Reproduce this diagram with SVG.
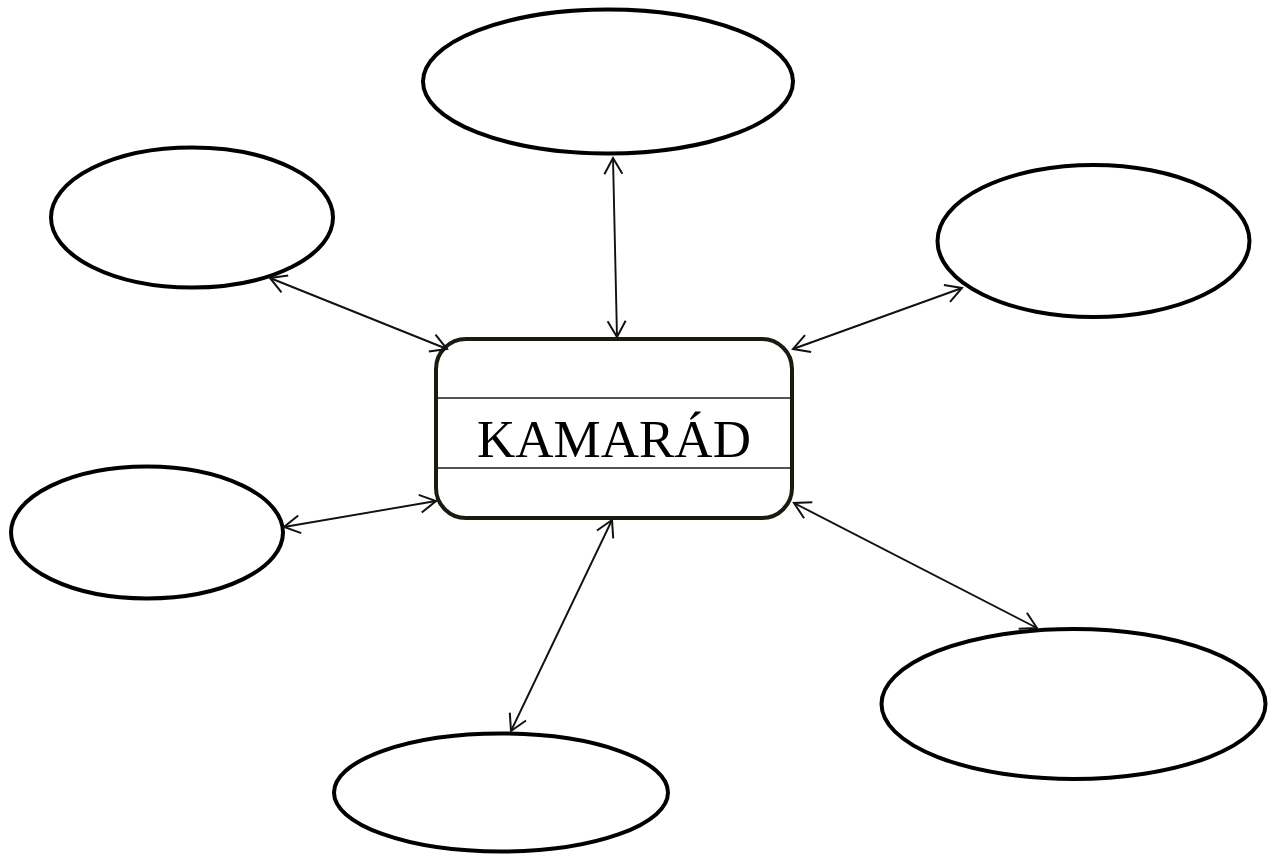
<svg xmlns="http://www.w3.org/2000/svg" width="1275" height="857" viewBox="0 0 1275 857">
<defs>
<marker id="arr" markerUnits="userSpaceOnUse" markerWidth="40" markerHeight="40" viewBox="-25 -20 40 40" refX="0" refY="0" orient="auto-start-reverse">
<path d="M-16,-9 L0,0 L-16,9" fill="none" stroke="#111" stroke-width="2"/>
</marker>
<style>
.node{fill:#fff;stroke:#000;stroke-width:4}
.link{fill:none;stroke:#111;stroke-width:1.9;marker-start:url(#arr);marker-end:url(#arr)}
.title{font-family:"Liberation Serif","Times New Roman",serif;font-size:53px;fill:#000}
</style>
</defs>
<rect width="1275" height="857" fill="#fff"/>
<g id="e-top"><ellipse class="node" cx="608" cy="81.5" rx="185" ry="72"/></g>
<g id="e-topleft"><ellipse class="node" cx="192" cy="217.5" rx="141" ry="70"/></g>
<g id="e-right"><ellipse class="node" cx="1093.5" cy="241" rx="156" ry="76"/></g>
<g id="e-left"><ellipse class="node" cx="147" cy="532.5" rx="136" ry="66"/></g>
<g id="e-bottom"><ellipse class="node" cx="501" cy="792.5" rx="167" ry="59"/></g>
<g id="e-bottomright"><ellipse class="node" cx="1073.5" cy="704" rx="192" ry="75"/></g>
<g id="center">
<rect x="436" y="339" width="356" height="179" rx="30" ry="30" fill="#fff" stroke="#1c1a10" stroke-width="4"/>
<line x1="438" y1="398" x2="790" y2="398" stroke="#1c1a10" stroke-width="1.5"/>
<line x1="438" y1="468" x2="790" y2="468" stroke="#1c1a10" stroke-width="1.5"/>
<text class="title" x="614" y="457" text-anchor="middle">KAMARÁD</text>
</g>
<g id="connectors">
<line class="link" x1="613" y1="158" x2="617" y2="337"/>
<line class="link" x1="270" y1="278" x2="447" y2="349"/>
<line class="link" x1="962" y1="288" x2="793" y2="349"/>
<line class="link" x1="284" y1="527" x2="436" y2="501"/>
<line class="link" x1="612" y1="520" x2="511" y2="731"/>
<line class="link" x1="794" y1="503" x2="1037" y2="628"/>
</g>
</svg>
